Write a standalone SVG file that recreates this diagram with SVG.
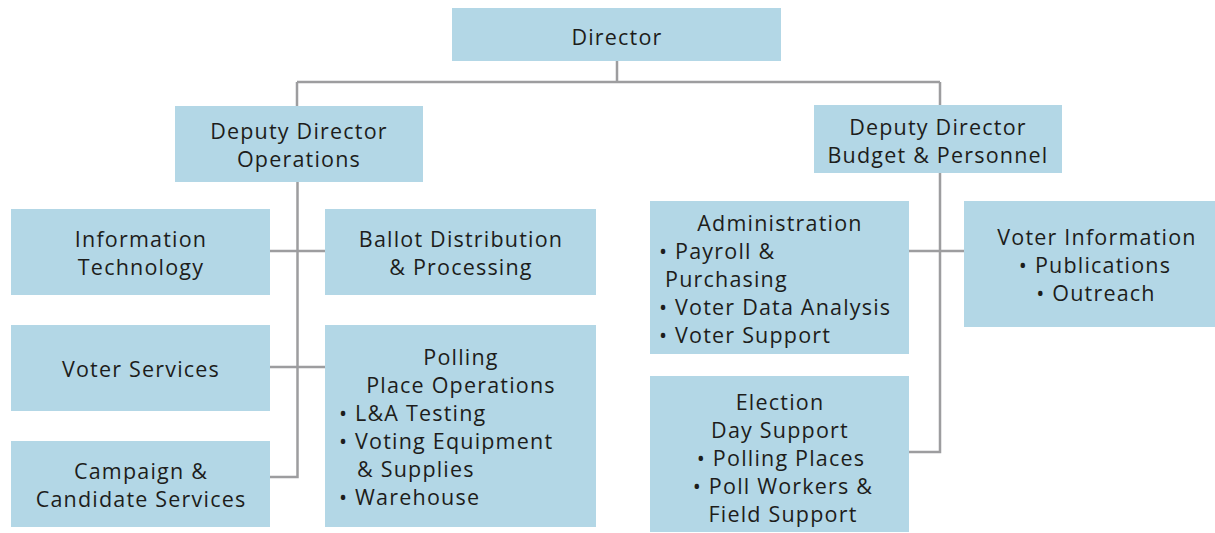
<svg xmlns="http://www.w3.org/2000/svg" width="1215" height="533" viewBox="0 0 1215 533">
<style>
.box{fill:#b3d7e6}
.t{font-family:"Open Sans","Liberation Sans",sans-serif;font-size:21.5px;fill:#1d1d1b;letter-spacing:1.2px}
.c{text-anchor:middle}
.ln{fill:none;stroke:#9d9d9f;stroke-width:2.5}
</style>
<rect width="1215" height="533" fill="#ffffff"/>
<g id="connectors">
<path class="ln" d="M617,61V82M297,82H940M297,82V106M940,82V105"/>
<path class="ln" d="M297.5,182V477H270M270,251H325M270,367H325"/>
<path class="ln" d="M940,173V452H909M909,251H964"/>
</g>
<g id="director"><rect class="box" x="452" y="8" width="329" height="53"/><text class="t c" x="617" y="45">Director</text></g>
<g id="deputy-ops"><rect class="box" x="175" y="106" width="248" height="76"/><text class="t c" x="299" y="139">Deputy Director</text><text class="t c" x="299" y="167">Operations</text></g>
<g id="deputy-budget"><rect class="box" x="814" y="105" width="248" height="68"/><text class="t c" x="938" y="135">Deputy Director</text><text class="t c" x="938" y="163">Budget &amp; Personnel</text></g>
<g id="it"><rect class="box" x="11" y="209" width="259" height="86"/><text class="t c" x="141" y="247">Information</text><text class="t c" x="141" y="275">Technology</text></g>
<g id="voter-services"><rect class="box" x="11" y="325" width="259" height="86"/><text class="t c" x="141" y="377">Voter Services</text></g>
<g id="campaign"><rect class="box" x="11" y="441" width="259" height="86"/><text class="t c" x="141" y="479">Campaign &amp;</text><text class="t c" x="141" y="507">Candidate Services</text></g>
<g id="ballot"><rect class="box" x="325" y="209" width="271" height="86"/><text class="t c" x="461" y="247">Ballot Distribution</text><text class="t c" x="461" y="275">&amp; Processing</text></g>
<g id="polling"><rect class="box" x="325" y="325" width="271" height="202"/><text class="t c" x="461" y="365">Polling</text><text class="t c" x="461" y="393">Place Operations</text><text class="t" x="339" y="421">• L&amp;A Testing</text><text class="t" x="339" y="449">• Voting Equipment</text><text class="t" x="357" y="477">&amp; Supplies</text><text class="t" x="339" y="505">• Warehouse</text></g>
<g id="administration"><rect class="box" x="650" y="201" width="259" height="153"/><text class="t c" x="780" y="231">Administration</text><text class="t" x="659" y="259">• Payroll &amp;</text><text class="t" x="665" y="287">Purchasing</text><text class="t" x="659" y="315">• Voter Data Analysis</text><text class="t" x="659" y="343">• Voter Support</text></g>
<g id="voter-information"><rect class="box" x="964" y="201" width="251" height="126"/><text class="t c" x="1097" y="245">Voter Information</text><text class="t c" x="1095" y="273">• Publications</text><text class="t c" x="1096" y="301">• Outreach</text></g>
<g id="election"><rect class="box" x="650" y="376" width="259" height="156"/><text class="t c" x="780" y="410">Election</text><text class="t c" x="780" y="438">Day Support</text><text class="t c" x="781" y="466">• Polling Places</text><text class="t c" x="783" y="494">• Poll Workers &amp;</text><text class="t c" x="783" y="522">Field Support</text></g>
</svg>
